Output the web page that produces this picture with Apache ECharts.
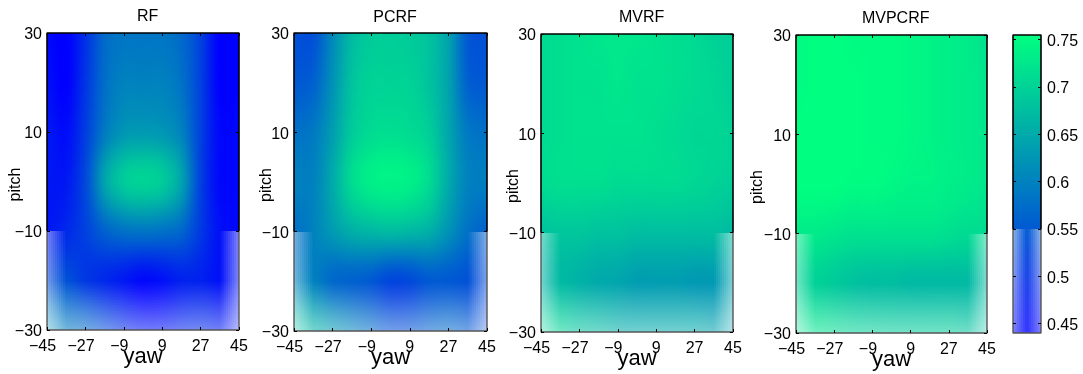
<!DOCTYPE html>
<html><head><meta charset="utf-8">
<style>html,body{margin:0;padding:0;background:#fff}#c{width:1083px;height:374px}</style>
<script src="https://cdn.jsdelivr.net/npm/echarts@6/dist/echarts.min.js"></script>
</head><body><div id="c"></div>
<script>
// Axis categories and ticks
const yawNodes = [-45,-36,-27,-18,-9,0,9,18,27,36,45];
const pitchNodes = [30,20,10,0,-10,-20,-30];
const yawTicks = [-45,-27,-9,9,27,45];
const pitchTicks = [-30,-10,10,30];
const barTicks = [0.45,0.5,0.55,0.6,0.65,0.7,0.75];
const barRange = [0.44,0.755];
const panelNames = ['RF','PCRF','MVRF','MVPCRF'];
// Accuracy, rows from pitch 30 to pitch -30
const rfValues = [
 [.45,.44,.50,.57,.585,.585,.585,.57,.52,.44,.44],
 [.46,.44,.505,.575,.60,.60,.60,.58,.52,.44,.44],
 [.47,.455,.515,.59,.625,.63,.625,.60,.52,.45,.45],
 [.47,.47,.53,.64,.69,.70,.69,.64,.52,.45,.45],
 [.47,.49,.52,.56,.58,.585,.58,.565,.51,.46,.45],
 [.53,.54,.51,.49,.47,.45,.46,.48,.48,.46,.46],
 [.62,.59,.57,.53,.49,.46,.46,.48,.49,.47,.46]];
const pcrfValues = [
 [.54,.54,.61,.67,.69,.695,.69,.68,.64,.55,.54],
 [.55,.56,.62,.68,.70,.70,.70,.68,.64,.56,.55],
 [.58,.59,.635,.69,.71,.715,.71,.695,.645,.59,.58],
 [.60,.60,.65,.71,.735,.74,.735,.71,.65,.60,.595],
 [.58,.60,.63,.655,.665,.67,.665,.655,.62,.58,.56],
 [.60,.60,.57,.56,.55,.525,.53,.55,.55,.54,.53],
 [.68,.66,.63,.60,.57,.54,.54,.56,.57,.55,.53]];
const mvrfValues = [
 [.71,.715,.72,.725,.725,.725,.72,.715,.71,.70,.695],
 [.71,.715,.72,.72,.725,.72,.72,.715,.71,.705,.695],
 [.71,.715,.72,.72,.72,.72,.715,.71,.705,.705,.70],
 [.71,.715,.715,.715,.71,.71,.71,.71,.705,.70,.695],
 [.68,.685,.685,.68,.68,.675,.675,.675,.675,.675,.67],
 [.66,.67,.66,.65,.645,.635,.635,.635,.63,.63,.64],
 [.70,.70,.68,.67,.655,.65,.65,.65,.65,.64,.64]];
const mvpcrfValues = [
 [.75,.755,.755,.75,.75,.75,.745,.74,.735,.73,.72],
 [.75,.755,.755,.755,.75,.75,.745,.74,.735,.73,.725],
 [.755,.755,.755,.755,.75,.75,.745,.74,.735,.73,.725],
 [.755,.755,.755,.75,.75,.745,.74,.74,.735,.73,.725],
 [.73,.73,.725,.72,.72,.72,.72,.72,.715,.71,.71],
 [.70,.70,.69,.68,.675,.675,.67,.67,.67,.67,.67],
 [.72,.72,.71,.70,.695,.69,.69,.69,.69,.68,.68]];
const panelValues = [rfValues,pcrfValues,mvrfValues,mvpcrfValues];
// Opacity of the lower part of each map, rows at pitch -10, -20, -30
const fadeValues = [
 [.55,1,1,1,1,1,1,1,1,1,.5],
 [.55,1,1,1,1,1,1,1,1,1,.5],
 [.3,.55,.55,.55,.55,.55,.55,.55,.55,.55,.28]];
const barFade = [[.45,1,.45],[.5,.8,.5]];
const frameUpper = [[-45,-10],[-45,30],[45,30],[45,-10]];
const frameLower = [[-45,-10],[-45,-30],[45,-30],[45,-10]];
const barFrameUpper = [[0,.55],[0,.755],[1,.755],[1,.55]];
const barFrameLower = [[0,.55],[0,.44],[1,.44],[1,.55]];
const colorLow = [0,0,255], colorHigh = [0,255,128];

// Layout
const gridBoxes = [[47,33,192,297],[294,33,193,298],[541,34,192,298],[796,35,191,298]];
const barBox = [1013,35,28,298];
const titleX = [142.7,390,636.7,890.7];
const titleY = [4,5,5,6];
const pitchGap = [23,19,19,30];
const FONT = 'Liberation Sans';

function mapColor(v,a){
  const t = Math.max(0,Math.min(1,(v-barRange[0])/(barRange[1]-barRange[0])));
  const ch = i => Math.round(a*(colorLow[i]+(colorHigh[i]-colorLow[i])*t)+(1-a)*255);
  return 'rgb('+ch(0)+','+ch(1)+','+ch(2)+')';
}
function cr(a,b,c,d,t){return .5*(2*b+(c-a)*t+(2*a-5*b+4*c-d)*t*t+(3*b-a-3*c+d)*t*t*t);}
const cl=(i,n)=>Math.max(0,Math.min(n-1,i));
function sample(g,r,c,u,w){
  const R=g.length,C=g[0].length, row=[];
  for(let k=-1;k<3;k++){
    const q=g[cl(r+k,R)];
    row.push(cr(q[cl(c-1,C)],q[c],q[cl(c+1,C)],q[cl(c+2,C)],u));
  }
  return cr(row[0],row[1],row[2],row[3],w);
}
function lerp2(g,r,c,u,w){
  return (g[r][c]*(1-u)+g[r][c+1]*u)*(1-w)+(g[r+1][c]*(1-u)+g[r+1][c+1]*u)*w;
}
function heatRender(grid){
  return function(params,api){
    const yaw=api.value(0),p=api.value(1);
    const c=yawNodes.indexOf(yaw),r=pitchNodes.indexOf(p);
    if(c>=yawNodes.length-1||r>=pitchNodes.length-1)return null;
    const A=api.coord([yaw,p]),B=api.coord([yawNodes[c+1],pitchNodes[r+1]]);
    const x0=Math.round(A[0]),x1=Math.round(B[0]),y0=Math.round(A[1]),y1=Math.round(B[1]);
    const kids=[],S=2;
    for(let y=y0;y<y1;y+=S){
      const h=Math.min(S,y1-y),w=(y+h/2-A[1])/(B[1]-A[1]);
      for(let x=x0;x<x1;x+=S){
        const wd=Math.min(S,x1-x),u=(x+wd/2-A[0])/(B[0]-A[0]);
        const v=sample(grid,r,c,u,w);
        const a=r>=4?lerp2(fadeValues,r-4,c,u,w):1;
        kids.push({type:'rect',silent:true,shape:{x:x,y:y,width:wd,height:h},style:{fill:mapColor(v,a)}});
      }
    }
    return {type:'group',children:kids};
  };
}
function barRender(params,api){
  const L=api.coord([0,barRange[1]]),Rr=api.coord([1,barRange[0]]);
  const x0=Math.round(L[0]),x1=Math.round(Rr[0]),y0=Math.round(L[1]),y1=Math.round(Rr[1]);
  const kids=[];
  for(let y=y0;y<y1;y++){
    const t=(y+.5-L[1])/(Rr[1]-L[1]);
    const v=barRange[1]+(barRange[0]-barRange[1])*t;
    for(let x=x0;x<x1;x+=2){
      const wd=Math.min(2,x1-x),u=(x+wd/2-x0)/(x1-x0);
      let a=1;
      if(v<.55){
        const w=(.55-v)/(.55-barRange[0]),s=u*2,c=Math.min(1,Math.floor(s)),f=s-c;
        a=lerp2(barFade,0,c,f,w);
      }
      kids.push({type:'rect',silent:true,shape:{x:x,y:y,width:wd,height:1},style:{fill:mapColor(v,a)}});
    }
  }
  return {type:'group',children:kids};
}
const minus=s=>String(s).replace('-','\u2212');
const labelStyle={color:'#000',fontFamily:FONT,fontSize:16};
const lowered={a:{color:'#000',fontFamily:FONT,fontSize:16,padding:[4,0,0,0]}};
const tickLine={lineStyle:{color:'#000',width:1}};
const grids=[],xAxes=[],yAxes=[],series=[],titles=[];
gridBoxes.forEach((b,i)=>{
  grids.push({left:b[0],top:b[1],width:b[2],height:b[3],show:false,outerBoundsMode:'none',containLabel:false});
  const xBase={type:'value',gridIndex:i,min:-45,max:45,z:5,splitLine:{show:false},axisLine:{show:false,onZero:false},
    axisTick:Object.assign({show:true,inside:true,length:3,customValues:yawTicks},tickLine)};
  const yBase={type:'value',gridIndex:i,min:-30,max:30,z:5,splitLine:{show:false},axisLine:{show:false,onZero:false},
    axisTick:Object.assign({show:true,inside:true,length:3,customValues:pitchTicks},tickLine)};
  xAxes.push(Object.assign({},xBase,{position:'bottom',name:'yaw',nameLocation:'middle',nameGap:16,nameMoveOverlap:false,
    nameTextStyle:{color:'#000',fontFamily:FONT,fontSize:22,verticalAlign:'top'},
    axisLabel:Object.assign({show:true,margin:9,customValues:yawTicks,hideOverlap:false,
      formatter:v=>v<0?minus(v)+'\u00A0\u00A0':String(v)},labelStyle)}));
  xAxes.push(Object.assign({},xBase,{position:'top',axisLabel:{show:false}}));
  yAxes.push(Object.assign({},yBase,{position:'left',name:'pitch',nameLocation:'middle',nameGap:pitchGap[i],nameMoveOverlap:false,
    nameTextStyle:{color:'#000',fontFamily:FONT,fontSize:16,padding:[0,6,0,0]},
    axisLabel:Object.assign({show:true,margin:5,rich:lowered,customValues:pitchTicks,hideOverlap:false,formatter:v=>'{a|'+minus(v)+'}'},labelStyle)}));
  yAxes.push(Object.assign({},yBase,{position:'right',axisLabel:{show:false}}));
  const xi=2*i, yi=2*i;
  const nodes=[];
  pitchNodes.forEach((p,r)=>yawNodes.forEach((y,c)=>nodes.push([y,p,panelValues[i][r][c]])));
  series.push({type:'custom',name:panelNames[i],xAxisIndex:xi,yAxisIndex:yi,clip:false,silent:true,animation:false,z:1,
    encode:{x:0,y:1},data:nodes,renderItem:heatRender(panelValues[i])});
  series.push({type:'line',xAxisIndex:xi,yAxisIndex:yi,data:frameUpper,symbol:'none',clip:false,silent:true,animation:false,z:3,
    lineStyle:{color:'#000',width:1.6}});
  series.push({type:'line',xAxisIndex:xi,yAxisIndex:yi,data:frameLower,symbol:'none',clip:false,silent:true,animation:false,z:2,
    lineStyle:{color:'#555',width:1.4}});
  titles.push({text:panelNames[i],left:titleX[i],top:titleY[i],textAlign:'center',
    textStyle:{color:'#000',fontFamily:FONT,fontSize:16,fontWeight:'normal'}});
});
// colour bar
const barGrid=grids.length;
grids.push({left:barBox[0],top:barBox[1],width:barBox[2],height:barBox[3],show:false,outerBoundsMode:'none',containLabel:false});
xAxes.push({type:'value',gridIndex:barGrid,min:0,max:1,show:false});
const barY={type:'value',gridIndex:barGrid,min:barRange[0],max:barRange[1],z:5,splitLine:{show:false},axisLine:{show:false,onZero:false},
  axisTick:Object.assign({show:true,inside:true,length:3,customValues:barTicks},tickLine)};
yAxes.push(Object.assign({},barY,{position:'right',axisLabel:Object.assign({show:true,margin:6,rich:lowered,customValues:barTicks,hideOverlap:false,
  formatter:v=>'{a|'+(+v.toFixed(2))+'}'},labelStyle)}));
yAxes.push(Object.assign({},barY,{position:'left',axisLabel:{show:false}}));
const xb=xAxes.length-1,yb=yAxes.length-2;
series.push({type:'custom',name:'colorbar',xAxisIndex:xb,yAxisIndex:yb,clip:false,silent:true,animation:false,z:1,
  encode:{x:0,y:1},data:[[0,barRange[0]]],renderItem:barRender});
series.push({type:'line',xAxisIndex:xb,yAxisIndex:yb,data:barFrameUpper,symbol:'none',clip:false,silent:true,animation:false,z:3,lineStyle:{color:'#000',width:1.6}});
series.push({type:'line',xAxisIndex:xb,yAxisIndex:yb,data:barFrameLower,symbol:'none',clip:false,silent:true,animation:false,z:2,lineStyle:{color:'#555',width:1.4}});

const chart=echarts.init(document.getElementById('c'),null,{renderer:'canvas'});
chart.setOption({animation:false,backgroundColor:'#fff',title:titles,grid:grids,xAxis:xAxes,yAxis:yAxes,series:series});
</script></body></html>
